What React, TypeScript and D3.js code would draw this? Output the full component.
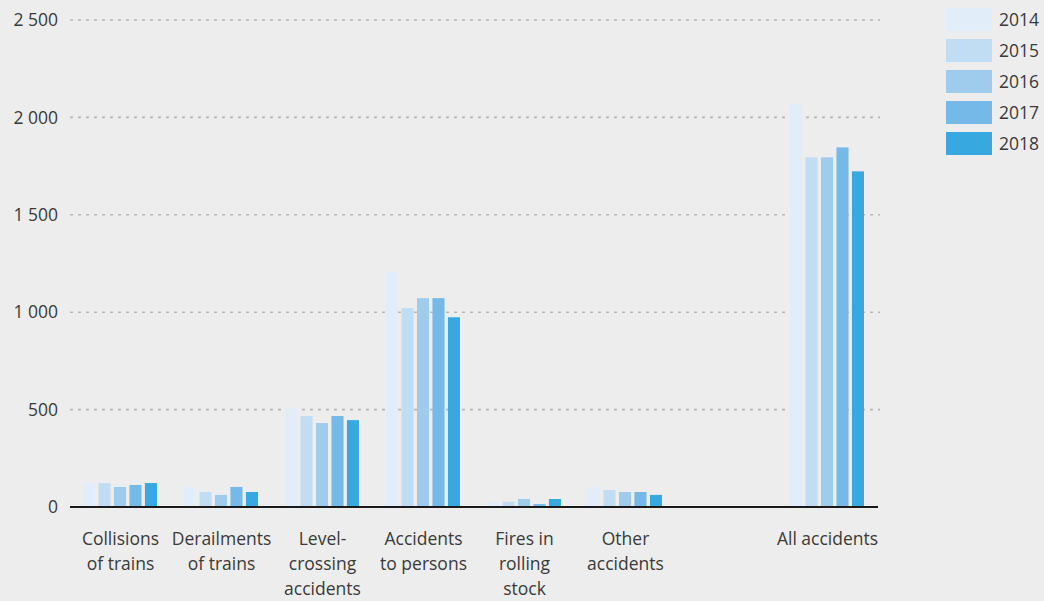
import * as d3 from 'd3'
import React from 'react'

const categories = ['Collisions of trains', 'Derailments of trains', 'Level-crossing accidents', 'Accidents to persons', 'Fires in rolling stock', 'Other accidents', '', 'All accidents']
const labelLines = [['Collisions', 'of trains'], ['Derailments', 'of trains'], ['Level-', 'crossing', 'accidents'], ['Accidents', 'to persons'], ['Fires in', 'rolling', 'stock'], ['Other', 'accidents'], [], ['All accidents']]
const years = ['2014', '2015', '2016', '2017', '2018']
const colors = ['#e1edf9', '#c1ddf4', '#9fcbed', '#74b9e7', '#38a9e0']
const values2014 = [123, 103, 508, 1205, 27, 103, null, 2067]
const values2015 = [123, 77, 467, 1021, 27, 87, null, 1795]
const values2016 = [103, 62, 431, 1072, 41, 77, null, 1795]
const values2017 = [113, 103, 467, 1072, 15, 77, null, 1846]
const values2018 = [123, 77, 446, 974, 41, 62, null, 1723]
const series = [values2014, values2015, values2016, values2017, values2018]
const yTicks = [0, 500, 1000, 1500, 2000, 2500]

const W = 1044, H = 601
const m = { left: 70, right: 878, top: 20, bottom: 507 }
const font = '"Open Sans", "Noto Sans", sans-serif'

export default function App() {
  const
    x0 = d3.scaleBand().domain(categories.map((c, i) => String(i))).range([m.left, m.right]),
    x1 = d3.scaleBand().domain(years).range([13, 87]).paddingInner(0.22),
    y = d3.scaleLinear().domain([0, 2500]).range([m.bottom, m.top]),
    fmt = (v: number) => d3.format(',')(v).replace(/,/g, ' ')

  return (
    <svg width={W} height={H} style={{ position: 'absolute', left: 0, top: 0 }} fontFamily={font}>
      <rect width={W} height={H} fill='#ededed' />
      {yTicks.filter(t => t > 0).map(t => (
        <line key={t} x1={m.left} x2={m.right + 2} y1={y(t)} y2={y(t)} stroke='#b7b7b7' strokeWidth={1.6} strokeDasharray='3 5' />
      ))}
      {yTicks.map(t => (
        <text key={t} x={58} y={y(t)} dy='0.35em' textAnchor='end' fontSize={17.5} fill='#3a3a3a'>{fmt(t)}</text>
      ))}
      {categories.map((c, i) => (
        <g key={i} transform={`translate(${x0(String(i))},0)`}>
          {years.map((yr, j) => {
            const v = series[j][i]
            if (v == null) return null
            return <rect key={yr} x={x1(yr)} y={y(v)} width={x1.bandwidth()} height={y(0) - y(v)} fill={colors[j]} />
          })}
          <text x={x0.bandwidth() / 2} y={545} textAnchor='middle' fontSize={17.5} fill='#3a3a3a'>
            {labelLines[i].map((l, k) => <tspan key={k} x={x0.bandwidth() / 2} dy={k === 0 ? 0 : 25}>{l}</tspan>)}
          </text>
        </g>
      ))}
      <line x1={m.left} x2={m.right} y1={m.bottom} y2={m.bottom} stroke='#1a1a1a' strokeWidth={2} />
      {years.map((yr, j) => (
        <g key={yr} transform={`translate(946,${8 + j * 31})`}>
          <rect width={46} height={23} fill={colors[j]} />
          <text x={53} y={11.5} dy='0.35em' fontSize={17.5} fill='#3a3a3a'>{yr}</text>
        </g>
      ))}
    </svg>
  )
}
